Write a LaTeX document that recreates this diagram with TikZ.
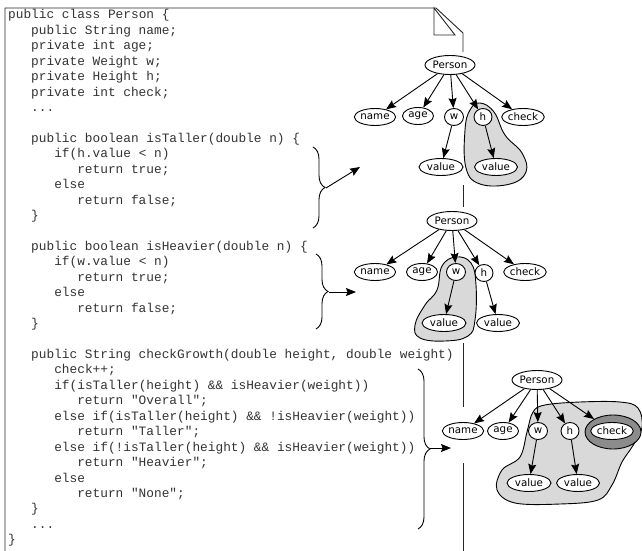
\documentclass[tikz,border=0pt]{standalone}
\usepackage{fontspec}
\setmainfont{DejaVu Sans}
\setmonofont{Liberation Mono}
\usetikzlibrary{shapes.geometric,arrows.meta,decorations.pathreplacing}
\begin{document}
\begin{tikzpicture}[x=1pt,y=-1pt,
  code/.style={anchor=base west, inner sep=0pt, font=\ttfamily\fontsize{12.8}{15}\selectfont, text=black!80},
  obj/.style={ellipse, draw, fill=white, line width=0.9pt, inner sep=0pt, minimum height=17pt, font=\fontsize{10.3}{12}\selectfont},
  edge/.style={line width=0.9pt, -{Stealth[length=10pt,width=8pt,inset=1.5pt]}},
  page/.style={line width=0.9pt, black!85},
  blob/.style={draw, line width=0.9pt, fill=black!15},
  bracestyle/.style={line width=0.9pt, decorate, decoration={brace, amplitude=12pt}}]
\useasboundingbox (0,0) rectangle (642,551);
\fill[white] (0,0) rectangle (642,551);
% page outline
\draw[page] (5,551) -- (5,8) -- (436,8) -- (463,33) -- (463,52);
\draw[page] (434,8) -- (434,35) -- (455,35) -- cycle;
\draw[page] (463,185) -- (463,207);
\draw[page] (463,343) -- (463,407);
\draw[page] (463,463) -- (463,551);
% code
\node[code] (l1) at (8,18.8) {public class Person \{};
\node[code] (l2) at (31,34.24) {public String name;};
\node[code] (l3) at (31,49.68) {private int age;};
\node[code] (l4) at (31,65.12) {private Weight w;};
\node[code] (l5) at (31,80.56) {private Height h;};
\node[code] (l6) at (31,96.0) {private int check;};
\node[code] (l7) at (31,111.44) {...};
\node[code] (l9) at (31,142.32) {public boolean isTaller(double n) \{};
\node[code] (l10) at (54.1,157.76) {if(h.value < n)};
\node[code] (l11) at (77.1,173.2) {return true;};
\node[code] (l12) at (54.1,188.64) {else};
\node[code] (l13) at (77.1,204.08) {return false;};
\node[code] (l14) at (31,219.52) {\}};
\node[code] (l16) at (31,250.4) {public boolean isHeavier(double n) \{};
\node[code] (l17) at (54.1,265.84) {if(w.value < n)};
\node[code] (l18) at (77.1,281.28) {return true;};
\node[code] (l19) at (54.1,296.72) {else};
\node[code] (l20) at (77.1,312.16) {return false;};
\node[code] (l21) at (31,327.6) {\}};
\node[code] (l23) at (31,358.48) {public String checkGrowth(double height, double weight)};
\node[code] (l24) at (54.1,373.92) {check++;};
\node[code] (l25) at (54.1,389.36) {if(isTaller(height) \&\& isHeavier(weight))};
\node[code] (l26) at (77.1,404.8) {return "Overall";};
\node[code] (l27) at (54.1,420.24) {else if(isTaller(height) \&\& !isHeavier(weight))};
\node[code] (l28) at (77.1,435.68) {return "Taller";};
\node[code] (l29) at (54.1,451.12) {else if(!isTaller(height) \&\& isHeavier(weight))};
\node[code] (l30) at (77.1,466.56) {return "Heavier";};
\node[code] (l31) at (54.1,482.0) {else};
\node[code] (l32) at (77.1,497.44) {return "None";};
\node[code] (l33) at (31,512.88) {\}};
\node[code] (l34) at (31,528.32) {...};
\node[code] (l35) at (8,543.76) {\}};
% braces and arrows
\draw[bracestyle] (313,147) -- (313,228);
\draw[bracestyle] (316,254) -- (316,329);
\draw[bracestyle] (418,369) -- (418,529);
\coordinate (t1) at (326,188);
\coordinate (e1) at (360,167);
\coordinate (t2) at (329,292);
\coordinate (e2) at (356,292);
\coordinate (t3) at (430,448);
\coordinate (e3) at (451,448);
\draw[edge] (t1) -- (e1);
\draw[edge] (t2) -- (e2);
\draw[edge] (t3) -- (e3);
% blobs
\draw[blob] plot[smooth cycle, tension=0.7] coordinates {(480,103) (494,112) (505,135) (522,153) (526,172) (510,184) (480,184) (466,168) (465,130) (470,110)};
\draw[blob] plot[smooth cycle, tension=0.7] coordinates {(456,257) (471,263) (476,285) (475,320) (468,336) (445,341) (420,338) (415,325) (425,305) (437,290) (442,266)};
\draw[blob] plot[smooth cycle, tension=0.6] coordinates {(545,405) (580,402) (620,402) (638,408) (642,428) (632,447) (622,462) (612,485) (598,500) (560,504) (515,503) (497,490) (502,470) (520,457) (527,432) (533,412)};
% graph 1
\node[obj, minimum width=50pt, minimum height=19pt] (P1) at (450,65) {Person};
\node[obj, minimum width=39pt] (name1) at (375,117) {name};
\node[obj, minimum width=31pt] (age1) at (418,116) {age};
\node[obj, minimum width=19pt] (w1) at (454,117) {w};
\node[obj, minimum width=18pt] (h1) at (483,117) {h};
\node[obj, minimum width=42pt] (check1) at (523,117) {check};
\node[obj, minimum width=44pt] (vw1) at (441,167) {value};
\node[obj, minimum width=43pt] (vh1) at (496,167) {value};
\foreach \t in {name1,age1,w1,h1,check1} \draw[edge] (P1) -- (\t);
\draw[edge] (w1) -- (vw1);
\draw[edge] (h1) -- (vh1);
% graph 2
\node[obj, minimum width=50pt, minimum height=19pt] (P2) at (452,221) {Person};
\node[obj, minimum width=39pt] (name2) at (375,272) {name};
\node[obj, minimum width=31pt] (age2) at (422,272) {age};
\node[obj, minimum width=19pt] (w2) at (456,272) {w};
\node[obj, minimum width=18pt] (h2) at (484,273) {h};
\node[obj, minimum width=42pt] (check2) at (525,272) {check};
\node[obj, minimum width=44pt] (vw2) at (444,323) {value};
\node[obj, minimum width=43pt] (vh2) at (498,323) {value};
\foreach \t in {name2,age2,w2,h2,check2} \draw[edge] (P2) -- (\t);
\draw[edge] (w2) -- (vw2);
\draw[edge] (h2) -- (vh2);
% graph 3
\node[obj, minimum width=50pt, minimum height=19pt] (P3) at (537,380) {Person};
\node[obj, minimum width=39pt] (name3) at (463,431) {name};
\node[obj, minimum width=31pt] (age3) at (503,431) {age};
\node[obj, minimum width=19pt] (w3) at (538,431) {w};
\node[obj, minimum width=18pt] (h3) at (570,431) {h};
\node[obj, fill=black!45, minimum width=56pt, minimum height=34pt] (ring3) at (613,432) {};
\node[obj, minimum width=41pt] (check3) at (612,431) {check};
\node[obj, minimum width=44pt] (vw3) at (529,483) {value};
\node[obj, minimum width=43pt] (vh3) at (578,483) {value};
\foreach \t in {name3,age3,w3,h3,ring3} \draw[edge] (P3) -- (\t);
\draw[edge] (w3) -- (vw3);
\draw[edge] (h3) -- (vh3);
\end{tikzpicture}
\end{document}
